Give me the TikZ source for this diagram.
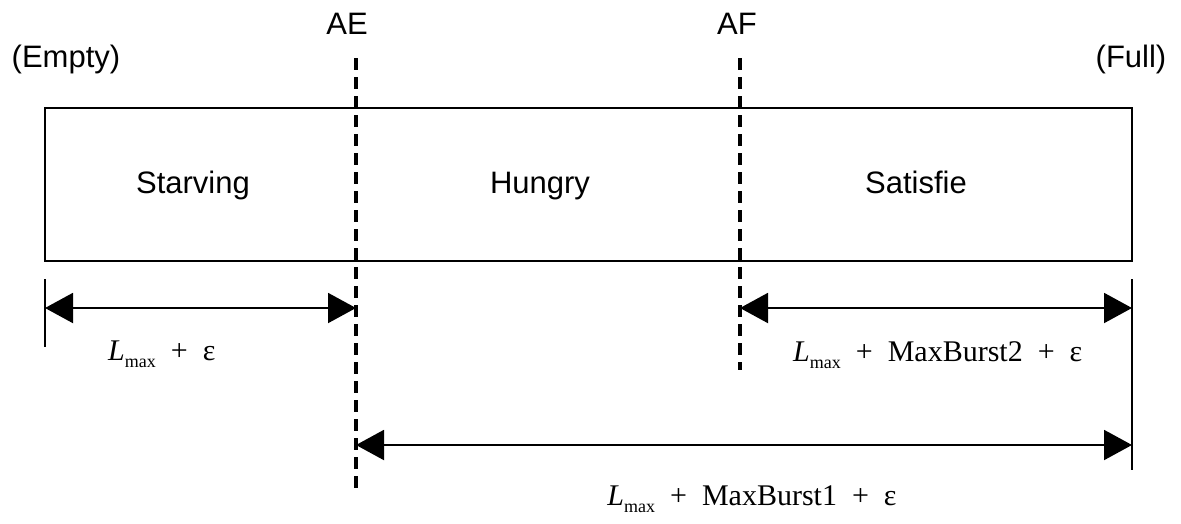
\documentclass[tikz,border=0pt]{standalone}
\usepackage{fontspec}
\setmainfont{Liberation Sans}
\newfontfamily\tnr{Liberation Serif}
\usetikzlibrary{arrows.meta}
\newcommand{\Lmax}{\textit{L}\raisebox{-0.25em}{\fontsize{18}{18}\selectfont max}}
\begin{document}
\begin{tikzpicture}[x=1pt,y=-1pt,
  lbl/.style={font=\fontsize{31}{31}\selectfont, inner sep=0pt, anchor=base},
  mlbl/.style={font=\tnr\fontsize{30}{30}\selectfont, inner sep=0pt},
  frame/.style={draw, line width=2pt, inner sep=0pt},
  guide/.style={line width=3.5pt, dash pattern=on 12pt off 7pt},
  tickline/.style={line width=2pt},
  dimline/.style={line width=2pt, {Triangle[length=28pt,width=30pt]}-{Triangle[length=28pt,width=30pt]}}]
\useasboundingbox (0,0) rectangle (1181,523);

% main box
\node[frame, minimum width=1087pt, minimum height=153pt] (box) at (588.5,184.5) {};

% region labels
\node[lbl] (starving) at (193,193) {Starving};
\node[lbl] (hungry) at (540,193) {Hungry};
\node[lbl] (satisfie) at (916,193) {Satisfie};

% top labels
\node[lbl] (empty) at (66,67) {(Empty)};
\node[lbl] (full) at (1131,67) {(Full)};
\node[lbl] (ae) at (347,34) {AE};
\node[lbl] (af) at (737,34) {AF};

% guide coordinates
\coordinate (aeTop) at (356,58);
\coordinate (aeBot) at (356,490);
\coordinate (afTop) at (740,58);
\coordinate (afBot) at (740,370);
\coordinate (lTickTop) at (45,279);
\coordinate (lTickBot) at (45,347);
\coordinate (rTickTop) at (1132,279);
\coordinate (rTickBot) at (1132,470);

\draw[guide] (aeTop) -- (aeBot);
\draw[guide] (afTop) -- (afBot);
\draw[tickline] (lTickTop) -- (lTickBot);
\draw[tickline] (rTickTop) -- (rTickBot);

% dimension arrows
\coordinate (d1a) at (45,308);
\coordinate (d1b) at (356,308);
\coordinate (d2a) at (740,308);
\coordinate (d2b) at (1132,308);
\coordinate (d3a) at (356,445);
\coordinate (d3b) at (1132,445);
\draw[dimline] (d1a) -- (d1b);
\draw[dimline] (d2a) -- (d2b);
\draw[dimline] (d3a) -- (d3b);

% dimension labels
\node[mlbl, anchor=base west] (lab1) at (108,360) {\Lmax\ \ +\ \ ε};
\node[mlbl, anchor=base west] (lab2) at (793,361) {\Lmax\ \ +\ \ MaxBurst2\ \ +\ \ ε};
\node[mlbl, anchor=base] (lab3) at (752,505) {\Lmax\ \ +\ \ MaxBurst1\ \ +\ \ ε};
\end{tikzpicture}
\end{document}
